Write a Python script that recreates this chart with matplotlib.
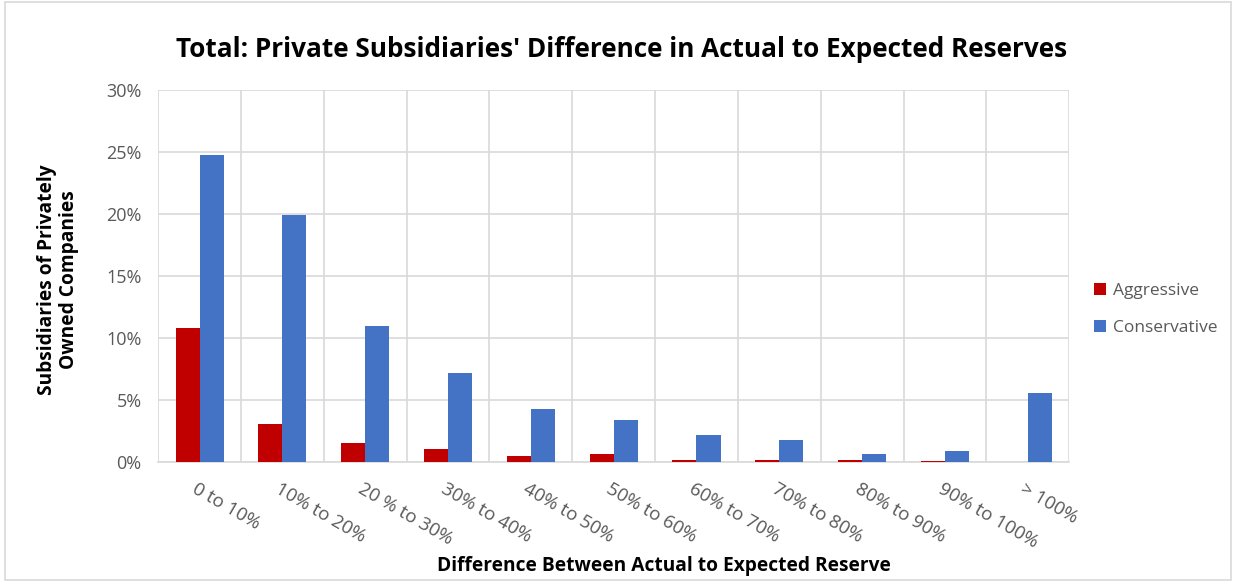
import matplotlib.pyplot as plt
import numpy as np
import matplotlib.transforms as mtrans
from matplotlib.patches import Rectangle

categories = ["0 to 10%", "10% to 20%", "20 % to 30%", "30% to 40%", "40% to 50%",
              "50% to 60%", "60% to 70%", "70% to 80%", "80% to 90%", "90% to 100%", "> 100%"]
aggressive = [10.8, 3.1, 1.56, 1.02, 0.5, 0.67, 0.18, 0.18, 0.18, 0.12, 0.0]
conservative = [24.75, 19.9, 11.0, 7.15, 4.25, 3.4, 2.2, 1.75, 0.67, 0.86, 5.6]
y_ticks = [0, 5, 10, 15, 20, 25, 30]

plt.rcParams['font.family'] = ['Open Sans', 'DejaVu Sans']

fig = plt.figure(figsize=(12.36, 5.82), dpi=100)
ax = fig.add_axes([0.128, 0.206, 0.737, 0.639])

x = np.arange(len(categories))
w = 0.29
ax.bar(x - w / 2, aggressive, w, color="#c00000", label="Aggressive", zorder=3)
ax.bar(x + w / 2, conservative, w, color="#4472c4", label="Conservative", zorder=3)

ax.set_xlim(-0.5, len(categories) - 0.5)
ax.set_ylim(0, 30)
ax.set_yticks(y_ticks)
ax.set_yticklabels([f"{v}%" for v in y_ticks], color="#595959", fontsize=13)

# vertical separators between categories
ax.set_xticks(np.arange(-0.5, len(categories), 1.0), minor=True)
ax.grid(axis='x', which='minor', color="#d9d9d9", linewidth=1.2, zorder=0)
ax.grid(axis='y', which='major', color="#d9d9d9", linewidth=1.2, zorder=0)
ax.set_xticks(x)
ax.set_xticklabels(categories, rotation=-30, ha='left', va='top',
                   rotation_mode='anchor', color="#595959", fontsize=13.5)
ax.tick_params(axis='x', which='both', length=0, pad=13)
ax.tick_params(axis='y', length=0, pad=12)
for s in ['top', 'right', 'left']:
    ax.spines[s].set_visible(False)
ax.spines['bottom'].set_color("#d9d9d9")
ax.spines['bottom'].set_linewidth(1.2)

# start each category label just left of the category centre
offset = mtrans.ScaledTranslation(-1 / 72, 0, fig.dpi_scale_trans)
for lbl in ax.get_xticklabels():
    lbl.set_transform(lbl.get_transform() + offset)

fig.text(0.503, 0.915, "Total: Private Subsidiaries' Difference in Actual to Expected Reserves",
         ha='center', va='center', fontsize=18.8, fontweight='bold', color="#000000")
fig.text(0.537, 0.028, "Difference Between Actual to Expected Reserve",
         ha='center', va='center', fontsize=13.8, fontweight='bold', color="#000000")
fig.text(0.047, 0.52, "Subsidiaries of Privately\nOwned Companies", rotation=90,
         ha='center', va='center', fontsize=13.8, fontweight='bold', color="#000000",
         linespacing=1.15)

ax.legend(loc='center left', bbox_to_anchor=(1.01, 0.41), frameon=False,
          fontsize=12.5, handlelength=0.7, handleheight=0.7, handletextpad=0.4,
          labelspacing=1.2, labelcolor="#595959")

fig.patches.append(Rectangle((0.004, 0.004), 0.992, 0.992, transform=fig.transFigure,
                             fill=False, edgecolor="#d9d9d9", linewidth=1.2))

fig.savefig("out.png", dpi=100, facecolor="white")
